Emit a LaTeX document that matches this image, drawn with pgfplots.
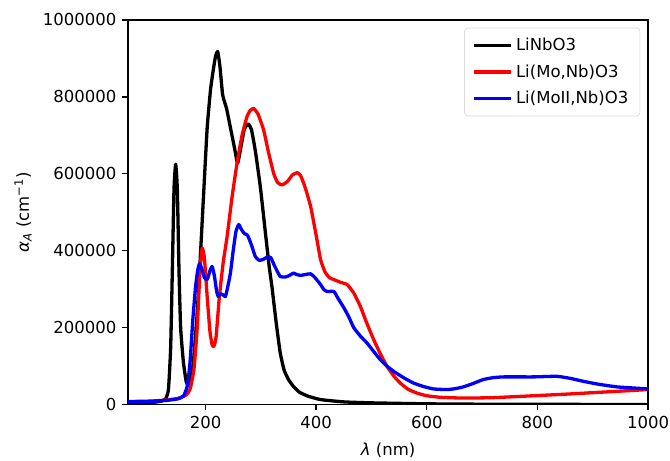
\documentclass[border=0pt]{standalone}
\usepackage{fontspec}
\setmainfont{DejaVu Sans}
\usepackage{pgfplots}
\pgfplotsset{compat=1.18}

\begin{document}
\begin{tikzpicture}
\begin{axis}[
  scale only axis,
  width=315pt, height=233pt,
  xmin=60, xmax=1000,
  ymin=0, ymax=1000000,
  xtick={200,400,600,800,1000},
  ytick={0,200000,400000,600000,800000,1000000},
  scaled y ticks=false,
  yticklabel style={/pgf/number format/.cd, fixed, 1000 sep={}},
  xticklabel style={/pgf/number format/.cd, fixed, 1000 sep={}},
  /pgf/number format/assume math mode=true,
  tick align=outside,
  tick pos=left,
  major tick length=3.5pt,
  every tick/.style={black, line width=0.8pt},
  axis line style={line width=0.8pt},
  tick label style={font=\fontsize{10}{12}\selectfont},
  label style={font=\fontsize{10}{12}\selectfont},
  xlabel={\textit{λ} (nm)},
  ylabel={\textit{α}\textsubscript{\textit{A}} (cm\textsuperscript{−1})},
  xlabel style={yshift=-2pt},
  legend style={at={(0.985,0.98)}, anchor=north east, draw=black!15,
    rounded corners=2pt, font=\fontsize{10}{12}\selectfont,
    inner xsep=5pt, inner ysep=4pt, row sep=3pt},
  legend cell align=left,
  legend image code/.code={\draw[#1, line width=2pt] (0cm,0cm) -- (0.78cm,0cm);},
  every axis plot/.append style={line width=2pt, line join=round},
  clip=true,
]
\addplot[black, smooth, tension=0.3] coordinates {
(60,3000) (100,5000) (120,9000) (128,15000) (133,40000) (137,150000) (140,350000)
(143,560000) (146,625000) (149,560000) (152,350000) (155,200000) (160,110000)
(165,60000) (168,52000) (172,60000) (178,110000) (185,240000) (191,395000)
(197,560000) (203,720000) (209,818000) (214,870000) (218,905000) (222,918000)
(226,880000) (231,805000) (238,770000) (245,720000) (252,670000) (258,628000)
(264,670000) (270,715000) (277,730000) (283,715000) (290,660000) (299,567000)
(308,450000) (315,360000) (320,307000) (328,210000) (335,135000) (342,90000)
(350,65000) (359,47000) (370,32000) (385,22000) (408,13000) (450,7000)
(500,4500) (600,2000) (700,1000) (800,600) (1000,300)
};
\addlegendentry{LiNbO3}
\addplot[red, smooth, tension=0.3] coordinates {
(60,8000) (100,9000) (130,12000) (150,16000) (165,25000) (172,40000) (179,91000)
(185,200000) (190,350000) (194,407000) (198,380000) (203,280000) (208,190000)
(212,155000) (215,151000) (219,175000) (225,280000) (232,370000) (239,437000)
(248,540000) (257,628000) (266,700000) (275,749000) (281,765000) (287,770000)
(295,755000) (305,714000) (314,655000) (323,602000) (330,578000) (338,571000)
(348,580000) (357,597000) (366,603000) (372,595000) (380,565000) (390,515000)
(400,440000) (408,377000) (416,345000) (424,330000) (432,325000) (444,318000)
(456,312000) (468,290000) (480,255000) (492,210000) (504,169000) (516,132000)
(528,99500) (540,75000) (552,56000) (566,40000) (582,30000) (600,23000)
(624,19000) (650,17500) (673,17000) (720,18000) (793,23000) (850,27000)
(913,32000) (1000,39000)
};
\addlegendentry{Li(Mo,Nb)O3}
\addplot[blue, smooth, tension=0.3] coordinates {
(60,7000) (100,8500) (130,11000) (150,15000) (160,22000) (167,48000) (172,110000)
(177,220000) (182,307000) (186,350000) (189,366000) (193,355000) (198,330000)
(203,325000) (208,348000) (212,359000) (216,335000) (220,295000) (223,281000)
(227,288000) (232,285000) (236,281000) (240,305000) (245,342000) (250,400000)
(255,450000) (260,468000) (265,455000) (270,445000) (276,440000) (283,415000)
(290,385000) (297,375000) (305,378000) (312,384000) (318,382000) (325,360000)
(335,333000) (345,332000) (352,336000) (359,342000) (365,338000) (372,336000)
(380,338000) (390,340000) (398,330000) (408,312000) (414,299000) (420,294000)
(432,294000) (440,275000) (450,252000) (459,228000) (468,200000) (480,178000)
(492,160000) (504,138000) (516,117000) (528,100000) (540,86500) (558,70000)
(576,56000) (594,47000) (612,40700) (636,39000) (650,41000) (666,46000)
(684,55000) (702,65000) (720,70000) (740,72000) (793,72000) (835,73500)
(860,68000) (883,60500) (910,53000) (944,46000) (975,43000) (1000,40700)
};
\addlegendentry{Li(MoII,Nb)O3}
\end{axis}
\pgfresetboundingbox
\path ([shift={(-77.6pt,-33.9pt)}]current axis.south west) rectangle ([shift={(13.3pt,12.1pt)}]current axis.north east);
\end{tikzpicture}
\end{document}
